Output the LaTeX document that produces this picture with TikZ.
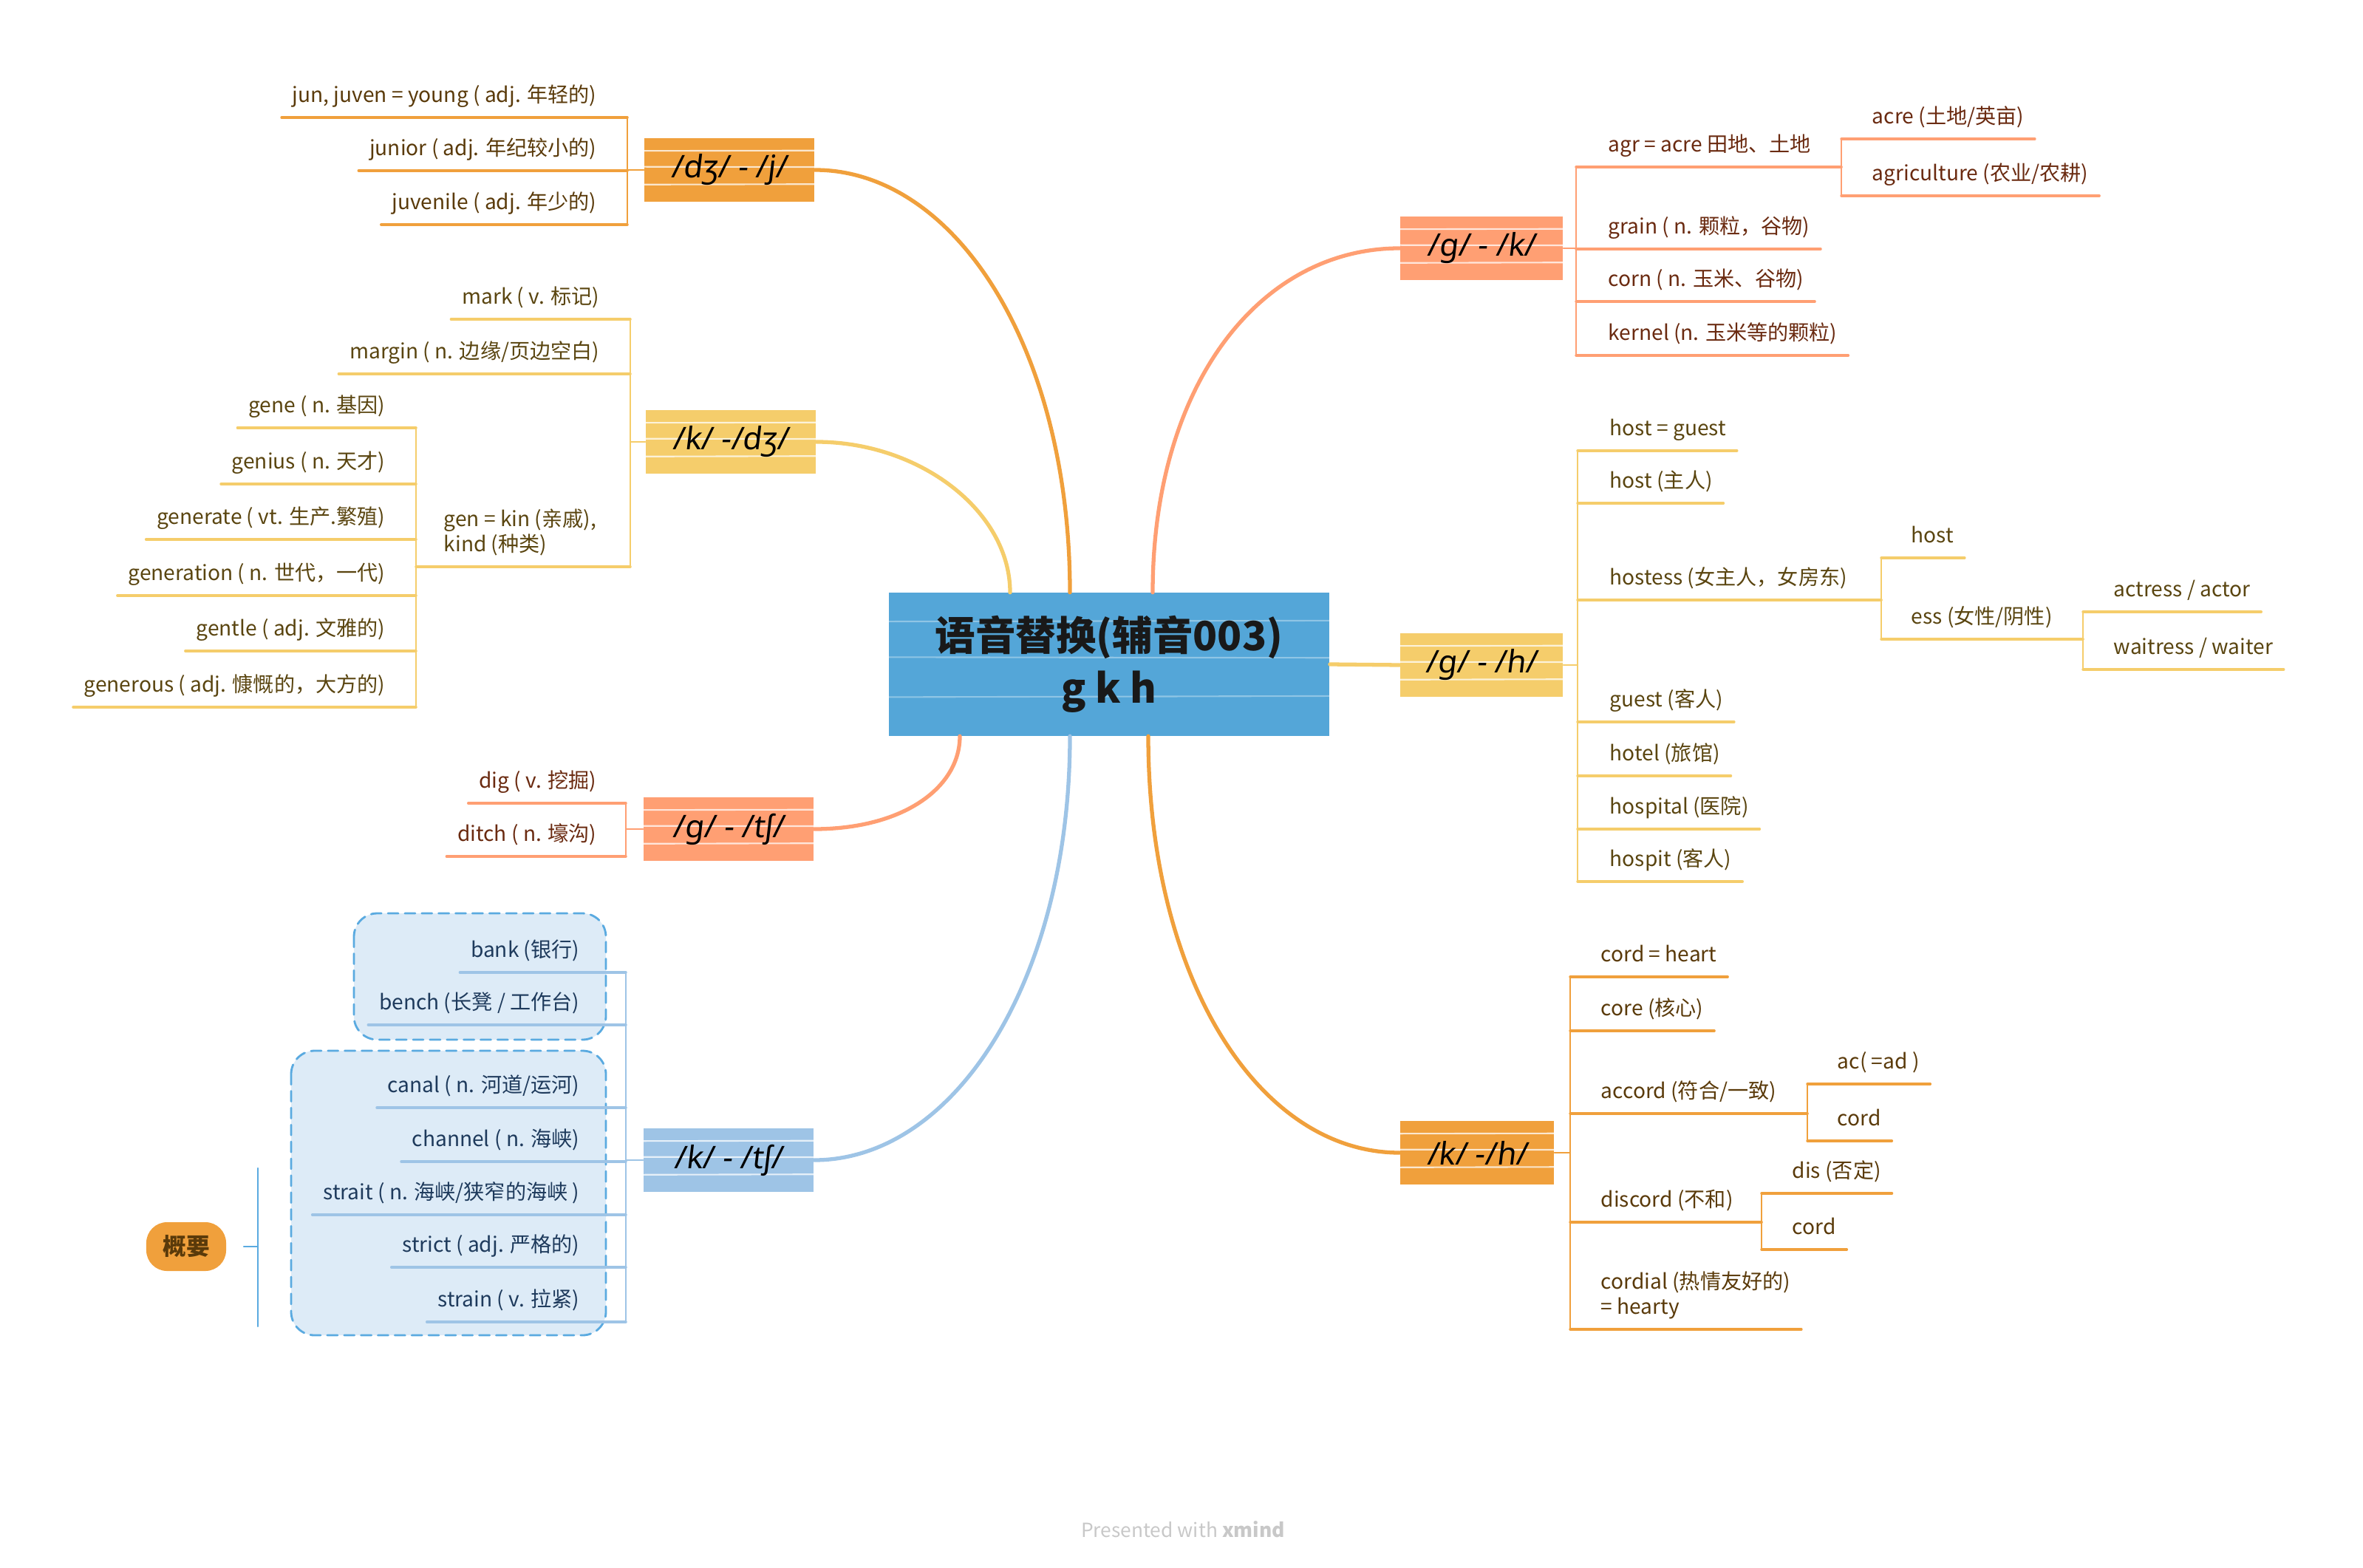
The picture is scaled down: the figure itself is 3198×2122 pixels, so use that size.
\documentclass[tikz,border=0pt]{standalone}
\usepackage{fontspec}
\setmainfont{Noto Sans CJK SC}
\newfontfamily\ipafont[FakeSlant=0.12]{Noto Sans}
\usepackage{xcolor}
\usetikzlibrary{calc}

\definecolor{rootblue}{HTML}{54A6D8}
\definecolor{orangeB}{HTML}{F0A03C}
\definecolor{yellowB}{HTML}{F5CD6B}
\definecolor{salmonB}{HTML}{FF9F73}
\definecolor{lblueB}{HTML}{9EC4E6}
\definecolor{boxfill}{HTML}{DDEBF7}
\definecolor{boxline}{HTML}{5AAAE0}
\definecolor{txtO}{HTML}{5A3A0A}
\definecolor{txtY}{HTML}{5A4510}
\definecolor{txtS}{HTML}{6A2A10}
\definecolor{txtB}{HTML}{1E3A5C}
\definecolor{footgray}{HTML}{C8C8C8}

\begin{document}
\begin{tikzpicture}[
   x=0.01cm,
   y=-0.01cm,
   line cap=round,
   line join=round,
   every node/.style={font=\fontsize{8}{9.5}\selectfont},
   sketch/.style={path picture={
     \foreach \f/\s in {0.2/0.04,0.45/-0.03,0.73/0.05}
       \draw[white,line width=0.6pt,opacity=#1]
         ($(path picture bounding box.north west)!\f!(path picture bounding box.south west)$)
         -- ++(20cm,\s cm);}},
   sketch/.default=0.75,
   root/.style={sketch=0.35,fill=rootblue,minimum width=5.96cm,minimum height=1.93cm,
     inner sep=0pt,align=center,text=black!90,
     font=\fontsize{15.5}{20}\selectfont\bfseries},
   topic/.style={sketch,minimum width=2.3cm,minimum height=0.86cm,inner sep=0pt,
     text=black,font=\ipafont\fontsize{12}{14}\selectfont\bfseries},
   leaf/.style={inner xsep=4pt,inner ysep=3.7pt,text depth=2pt},
   leafL/.style={leaf,anchor=south east},
   leafR/.style={leaf,anchor=south west},
   main/.style={line width=1.5pt},
   lineC/.style={line width=0.7pt},
   ulC/.style={line width=1pt},
   boundary/.style={fill=boxfill,draw=boxline,line width=0.8pt,
     dash pattern=on 4pt off 2.5pt,rounded corners=9pt},
   summary/.style={fill=orangeB,rounded corners=8pt,minimum width=1.08cm,
     minimum height=0.66cm,inner sep=0pt,text=txtO,
     font=\fontsize{9}{11}\selectfont\bfseries},
   footer/.style={text=footgray,font=\fontsize{7.5}{9}\selectfont}
 ]
   \useasboundingbox (0,0) rectangle (3198,2122);

   % Central topic.
   \node[root] (root) at (1501,899) {语音替换(辅音003)\\g k h};

   % Main topics.
   \node[topic,fill=orangeB] (dj) at (987,230) {/dʒ/ - /j/};
   \node[topic,fill=yellowB] (kd) at (989,598) {/k/ -/dʒ/};
   \node[topic,fill=salmonB] (gt) at (986,1122) {/g/ - /tʃ/};
   \node[topic,fill=lblueB] (kt) at (986,1570) {/k/ - /tʃ/};
   \node[topic,fill=salmonB,minimum width=2.2cm] (gk) at (2005,336) {/g/ - /k/};
   \node[topic,fill=yellowB,minimum width=2.2cm] (gh) at (2005,900) {/g/ - /h/};
   \node[topic,fill=orangeB,minimum width=2.08cm] (kh) at (1999,1560) {/k/ -/h/};

   % Curved links from the centre.
   \draw[main,orangeB] ($(root.north)+(-53,0)$) .. controls +(0,-330) and +(190,0) .. (dj.east);
   \draw[main,yellowB] ($(root.north)+(-134,0)$) .. controls +(0,-110) and +(140,0) .. (kd.east);
   \draw[main,salmonB] ($(root.south)+(-202,0)$) .. controls +(0,70) and +(120,0) .. (gt.east);
   \draw[main,lblueB] ($(root.south)+(-53,0)$) .. controls +(0,330) and +(190,0) .. (kt.east);
   \draw[main,salmonB] ($(root.north)+(59,0)$) .. controls +(0,-280) and +(-190,0) .. (gk.west);
   \draw[main,yellowB] (root.east) -- (gh.west);
   \draw[main,orangeB] ($(root.south)+(53,0)$) .. controls +(0,330) and +(-190,0) .. (kh.west);

   % /dʒ/ - /j/
   \coordinate (bdj) at (849,230);
   \node[leafL,text=txtO] (jun) at (822,159) {jun, juven = young ( adj. 年轻的)};
   \node[leafL,text=txtO] (junior) at (822,231) {junior ( adj. 年纪较小的)};
   \node[leafL,text=txtO] (juvenile) at (822,304) {juvenile ( adj. 年少的)};
   \draw[lineC,orangeB] (dj.west) -- (bdj);
   \draw[lineC,orangeB] (jun.south -| bdj) -- (juvenile.south -| bdj);
   \foreach \n in {jun,junior,juvenile}
     \draw[ulC,orangeB] (\n.south west) -- (\n.south -| bdj);

   % /k/ - /dʒ/
   \coordinate (bkd) at (853,598);
   \coordinate (bgen) at (563,767);
   \node[leafL,text=txtY] (mark) at (826,432) {mark ( v. 标记)};
   \node[leafL,text=txtY] (margin) at (826,506) {margin ( n. 边缘/页边空白)};
   \node[leafR,text=txtY,align=left] (gen) at (586,767) {gen = kin (亲戚),\\kind (种类)};
   \node[leafL,text=txtY] (gene) at (536,579) {gene ( n. 基因)};
   \node[leafL,text=txtY] (genius) at (536,655) {genius ( n. 天才)};
   \node[leafL,text=txtY] (generate) at (536,730) {generate ( vt. 生产.繁殖)};
   \node[leafL,text=txtY] (generation) at (536,806) {generation ( n. 世代，一代)};
   \node[leafL,text=txtY] (gentle) at (536,881) {gentle ( adj. 文雅的)};
   \node[leafL,text=txtY] (generous) at (536,957) {generous ( adj. 慷慨的，大方的)};
   \draw[lineC,yellowB] (kd.west) -- (bkd);
   \draw[lineC,yellowB] (mark.south -| bkd) -- (gen.south -| bkd);
   \foreach \n in {mark,margin}
     \draw[ulC,yellowB] (\n.south west) -- (\n.south -| bkd);
   \draw[ulC,yellowB] (gen.south -| bgen) -- (gen.south -| bkd);
   \draw[lineC,yellowB] (gene.south -| bgen) -- (generous.south -| bgen);
   \foreach \n in {gene,genius,generate,generation,gentle,generous}
     \draw[ulC,yellowB] (\n.south west) -- (\n.south -| bgen);

   % /g/ - /tʃ/
   \coordinate (bgt) at (847,1122);
   \node[leafL,text=txtS] (dig) at (822,1087) {dig ( v. 挖掘)};
   \node[leafL,text=txtS] (ditch) at (822,1159) {ditch ( n. 壕沟)};
   \draw[lineC,salmonB] (gt.west) -- (bgt);
   \draw[lineC,salmonB] (dig.south -| bgt) -- (ditch.south -| bgt);
   \foreach \n in {dig,ditch}
     \draw[ulC,salmonB] (\n.south west) -- (\n.south -| bgt);

   % /k/ - /tʃ/ with its two boundaries and the summary.
   \draw[boundary] (479,1236) rectangle (820,1407);
   \draw[boundary] (394,1422) rectangle (820,1807);
   \coordinate (bkt) at (847,1570);
   \node[leafL,text=txtB] (bank) at (799,1316) {bank (银行)};
   \node[leafL,text=txtB] (bench) at (799,1387) {bench (长凳 / 工作台)};
   \node[leafL,text=txtB] (canal) at (799,1499) {canal ( n. 河道/运河)};
   \node[leafL,text=txtB] (channel) at (799,1572) {channel ( n. 海峡)};
   \node[leafL,text=txtB] (strait) at (799,1644) {strait ( n. 海峡/狭窄的海峡 )};
   \node[leafL,text=txtB] (strict) at (799,1715) {strict ( adj. 严格的)};
   \node[leafL,text=txtB] (strain) at (799,1789) {strain ( v. 拉紧)};
   \draw[lineC,lblueB] (kt.west) -- (bkt);
   \draw[lineC,lblueB] (bank.south -| bkt) -- (strain.south -| bkt);
   \foreach \n in {bank,bench,canal,channel,strait,strict,strain}
     \draw[ulC,lblueB] (\n.south west) -- (\n.south -| bkt);
   \node[summary] (sum) at (252,1687) {概要};
   \coordinate (sumtop) at (349,1581);
   \coordinate (sumbot) at (349,1795);
   \coordinate (sumtick) at (330,1687);
   \draw[lineC,boxline] (sumtop) -- (sumbot);
   \draw[lineC,boxline] (sumtick) -- (sumtick -| sumtop);

   % /g/ - /k/
   \coordinate (bgk) at (2133,336);
   \coordinate (bagr) at (2492,226);
   \node[leafR,text=txtS] (agr) at (2162,226) {agr = acre 田地、土地};
   \node[leafR,text=txtS] (acre) at (2519,188) {acre (土地/英亩)};
   \node[leafR,text=txtS] (agri) at (2519,265) {agriculture (农业/农耕)};
   \node[leafR,text=txtS] (grain) at (2162,337) {grain ( n. 颗粒，谷物)};
   \node[leafR,text=txtS] (corn) at (2162,408) {corn ( n. 玉米、谷物)};
   \node[leafR,text=txtS] (kernel) at (2162,481) {kernel (n. 玉米等的颗粒)};
   \draw[lineC,salmonB] (gk.east) -- (bgk);
   \draw[lineC,salmonB] (agr.south -| bgk) -- (kernel.south -| bgk);
   \draw[ulC,salmonB] (agr.south -| bgk) -- (agr.south -| bagr);
   \foreach \n in {grain,corn,kernel}
     \draw[ulC,salmonB] (\n.south -| bgk) -- (\n.south east);
   \draw[lineC,salmonB] (acre.south -| bagr) -- (agri.south -| bagr);
   \foreach \n in {acre,agri}
     \draw[ulC,salmonB] (\n.south -| bagr) -- (\n.south east);

   % /g/ - /h/
   \coordinate (bgh) at (2135,900);
   \coordinate (bhost) at (2546,812);
   \coordinate (bess) at (2819,865);
   \node[leafR,text=txtY] (hg) at (2164,610) {host = guest};
   \node[leafR,text=txtY] (hostzh) at (2164,681) {host (主人)};
   \node[leafR,text=txtY] (hostess) at (2164,812) {hostess (女主人，女房东)};
   \node[leafR,text=txtY] (host) at (2572,755) {host};
   \node[leafR,text=txtY] (ess) at (2572,865) {ess (女性/阴性)};
   \node[leafR,text=txtY] (actress) at (2846,828) {actress / actor};
   \node[leafR,text=txtY] (waitress) at (2846,906) {waitress / waiter};
   \node[leafR,text=txtY] (guest) at (2164,977) {guest (客人)};
   \node[leafR,text=txtY] (hotel) at (2164,1050) {hotel (旅馆)};
   \node[leafR,text=txtY] (hospital) at (2164,1122) {hospital (医院)};
   \node[leafR,text=txtY] (hospit) at (2164,1193) {hospit (客人)};
   \draw[lineC,yellowB] (gh.east) -- (bgh);
   \draw[lineC,yellowB] (hg.south -| bgh) -- (hospit.south -| bgh);
   \foreach \n in {hg,hostzh,guest,hotel,hospital,hospit}
     \draw[ulC,yellowB] (\n.south -| bgh) -- (\n.south east);
   \draw[ulC,yellowB] (hostess.south -| bgh) -- (hostess.south -| bhost);
   \draw[lineC,yellowB] (host.south -| bhost) -- (ess.south -| bhost);
   \draw[ulC,yellowB] (host.south -| bhost) -- (host.south east);
   \draw[ulC,yellowB] (ess.south -| bhost) -- (ess.south -| bess);
   \draw[lineC,yellowB] (actress.south -| bess) -- (waitress.south -| bess);
   \foreach \n in {actress,waitress}
     \draw[ulC,yellowB] (\n.south -| bess) -- (\n.south east);

   % /k/ - /h/
   \coordinate (bkh) at (2125,1560);
   \coordinate (bacc) at (2446,1507);
   \coordinate (bdis) at (2384,1654);
   \node[leafR,text=txtO] (cordh) at (2152,1322) {cord = heart};
   \node[leafR,text=txtO] (core) at (2152,1395) {core (核心)};
   \node[leafR,text=txtO] (accord) at (2152,1507) {accord (符合/一致)};
   \node[leafR,text=txtO] (ac) at (2472,1467) {ac( =ad )};
   \node[leafR,text=txtO] (cordA) at (2472,1544) {cord};
   \node[leafR,text=txtO] (discord) at (2152,1654) {discord (不和)};
   \node[leafR,text=txtO] (dis) at (2411,1615) {dis (否定)};
   \node[leafR,text=txtO] (cordB) at (2411,1691) {cord};
   \node[leafR,text=txtO,align=left] (cordial) at (2152,1799) {cordial (热情友好的)\\= hearty};
   \draw[lineC,orangeB] (kh.east) -- (bkh);
   \draw[lineC,orangeB] (cordh.south -| bkh) -- (cordial.south -| bkh);
   \foreach \n in {cordh,core,cordial}
     \draw[ulC,orangeB] (\n.south -| bkh) -- (\n.south east);
   \draw[ulC,orangeB] (accord.south -| bkh) -- (accord.south -| bacc);
   \draw[ulC,orangeB] (discord.south -| bkh) -- (discord.south -| bdis);
   \draw[lineC,orangeB] (ac.south -| bacc) -- (cordA.south -| bacc);
   \foreach \n in {ac,cordA}
     \draw[ulC,orangeB] (\n.south -| bacc) -- (\n.south east);
   \draw[lineC,orangeB] (dis.south -| bdis) -- (cordB.south -| bdis);
   \foreach \n in {dis,cordB}
     \draw[ulC,orangeB] (\n.south -| bdis) -- (\n.south east);

   \node[footer] (foot) at (1601,2070) {Presented with \textbf{xmind}};
 \end{tikzpicture}
\end{document}
